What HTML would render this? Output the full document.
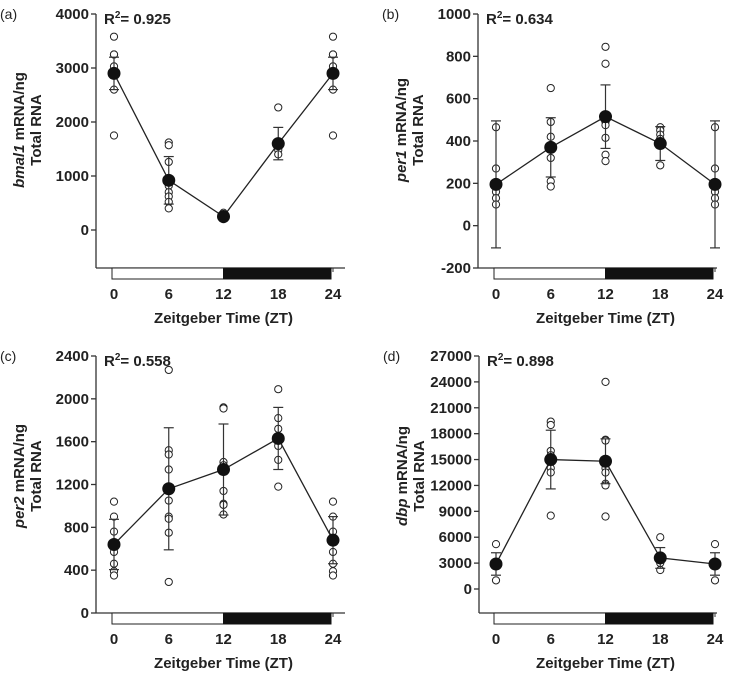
<!DOCTYPE html>
<html><head><meta charset="utf-8"><style>
html,body{margin:0;padding:0;background:#fff;}
svg{display:block;font-family:"Liberation Sans",Arial,sans-serif;}
.tk{font-size:15px;font-weight:bold;fill:#222;}
</style></head><body>
<svg id="fig" width="735" height="673" viewBox="0 0 735 673" xmlns="http://www.w3.org/2000/svg"></svg>
<script>
const xCats=[0,6,12,18,24];
const aMeans=[2900,920,250,1600,2900];
const aErrHi=[300,440,60,300,300];
const aErrLo=[300,440,60,300,300];
const aPts=[[3580,3250,3250,3030,2600,1750],[1620,1570,1260,820,700,620,520,400],[320,280,230,200],[2270,1480,1400],[3580,3250,3250,3030,2600,1750]];
const aTicks=[0,1000,2000,3000,4000];
const bMeans=[195,370,515,388,195];
const bErrHi=[300,140,150,80,300];
const bErrLo=[300,140,150,80,300];
const bPts=[[465,270,160,130,100],[650,490,420,320,210,185],[845,765,490,475,415,335,305],[465,450,430,410,285],[465,270,160,130,100]];
const bTicks=[-200,0,200,400,600,800,1000];
const cMeans=[640,1160,1340,1630,680];
const cErrHi=[235,570,425,290,220];
const cErrLo=[235,570,425,290,220];
const cPts=[[1040,900,760,570,460,390,350],[2270,1520,1480,1340,1050,900,880,750,290],[1920,1910,1410,1380,1140,1020,1010,920],[2090,1820,1720,1560,1430,1180],[1040,900,760,570,460,390,350]];
const cTicks=[0,400,800,1200,1600,2000,2400];
const dMeans=[2900,15000,14800,3600,2900];
const dErrHi=[1300,3400,2600,1200,1300];
const dErrLo=[1300,3400,2600,1200,1300];
const dPts=[[5200,1000],[19400,19000,16000,15500,14000,13500,8500],[24000,17300,17200,14000,13500,12200,12000,8400],[6000,3000,2200],[5200,1000]];
const dTicks=[0,3000,6000,9000,12000,15000,18000,21000,24000,27000];

const NS="http://www.w3.org/2000/svg";
const svg=document.getElementById('fig');
function mk(tag,attrs,parent,text){const e=document.createElementNS(NS,tag);for(const k in attrs)e.setAttribute(k,attrs[k]);if(text!==undefined)e.textContent=text;(parent||svg).appendChild(e);return e;}

function panel(o){
  const g=mk('g',{});
  
  
  const y=v=>o.y0+(v-o.vmin)/(o.vmax-o.vmin)*(o.y1-o.y0);
  const x=t=>o.x0+(t-0)/24*(o.x24-o.x0);
  const st='#333';
  const ya=mk('line',{x1:o.ax,y1:o.top,x2:o.ax,y2:o.bot,stroke:st,'stroke-width':1.3},g);
  
  const xa=mk('line',{x1:o.ax,y1:o.bot,x2:o.xr,y2:o.bot,stroke:st,'stroke-width':1.3},g);
  
  o.ticks.forEach(t=>{
    const yy=y(t);
    mk('line',{x1:o.ax-5,y1:yy,x2:o.ax,y2:yy,stroke:st,'stroke-width':1.3},g);
    const tl=mk('text',{x:o.ax-7,y:yy+5,'text-anchor':'end',class:'tk'},g,String(t));
    
  });
  const bh=11;
  const lb=mk('rect',{x:x(0)-2,y:o.bot,width:x(12)-x(0)+2,height:bh,fill:'#fff',stroke:'#222','stroke-width':1},g);
  
  const db=mk('rect',{x:x(12),y:o.bot,width:x(24)-x(12)-2,height:bh,fill:'#111',stroke:'#111','stroke-width':1},g);
  
  mk('line',{x1:x(24),y1:o.bot,x2:x(24),y2:o.bot+4,stroke:st,'stroke-width':1},g);
  xCats.forEach(c=>{
    const tl=mk('text',{x:x(c),y:o.bot+31,'text-anchor':'middle',class:'tk','font-size':'16'},g,String(c));
    
  });
  const xt=mk('text',{x:(x(0)+x(24))/2,y:o.bot+55,'text-anchor':'middle',class:'tk','font-size':'17.5'},g,'Zeitgeber Time (ZT)');
  
  const cy=o.titleY;
  const yt=mk('text',{transform:`translate(${o.ax-72},${cy}) rotate(-90)`,'text-anchor':'middle',class:'tk','font-size':'16'},g);
  
  mk('tspan',{'font-style':'italic'},yt,o.gene);
  mk('tspan',{},yt,' mRNA/ng');
  mk('text',{transform:`translate(${o.ax-55},${cy}) rotate(-90)`,'text-anchor':'middle',class:'tk','font-size':'16'},g,'Total RNA');
  const r=mk('text',{x:o.ax+8,y:o.top+10,class:'tk','font-size':'15'},g);
  
  mk('tspan',{},r,'R');mk('tspan',{'font-size':'10',dy:'-6'},r,'2');mk('tspan',{dy:'6'},r,'= '+o.r2);
  const pl=mk('text',{x:o.ax-96,y:o.top+5,'font-size':'14',fill:'#222'},g,'('+o.id+')');
  
  o.pts.forEach((arr,i)=>arr.forEach(v=>{
    const c=mk('circle',{cx:x(xCats[i]),cy:y(v),r:3.6,fill:'#fff',stroke:'#222','stroke-width':1},g);
    
  }));
  const pts=o.means.map((m,i)=>x(xCats[i])+','+y(m)).join(' ');
  const ln=mk('polyline',{points:pts,fill:'none',stroke:'#222','stroke-width':1.3},g);
  
  o.means.forEach((m,i)=>{
    const xx=x(xCats[i]),hi=y(m+o.eh[i]),lo=y(m-o.el[i]);
    mk('line',{x1:xx,y1:hi,x2:xx,y2:lo,stroke:'#333','stroke-width':1.2},g);
    mk('line',{x1:xx-5,y1:hi,x2:xx+5,y2:hi,stroke:'#333','stroke-width':1.2},g);
    mk('line',{x1:xx-5,y1:lo,x2:xx+5,y2:lo,stroke:'#333','stroke-width':1.2},g);
    const c=mk('circle',{cx:xx,cy:y(m),r:6.5,fill:'#111'},g);
    
  });
}
panel({id:'a',gene:'bmal1',r2:'0.925',ax:96,top:14,bot:268,xr:345,x0:114,x24:333,vmin:0,vmax:4000,y0:230,y1:14,ticks:aTicks,means:aMeans,eh:aErrHi,el:aErrLo,pts:aPts,titleY:130});
panel({id:'b',gene:'per1',r2:'0.634',ax:478,top:14,bot:268,xr:717,x0:496,x24:715,vmin:-200,vmax:1000,y0:268,y1:14,ticks:bTicks,means:bMeans,eh:bErrHi,el:bErrLo,pts:bPts,titleY:130});
panel({id:'c',gene:'per2',r2:'0.558',ax:96,top:356,bot:613,xr:345,x0:114,x24:333,vmin:0,vmax:2400,y0:613,y1:356,ticks:cTicks,means:cMeans,eh:cErrHi,el:cErrLo,pts:cPts,titleY:476});
panel({id:'d',gene:'dbp',r2:'0.898',ax:479,top:356,bot:613,xr:717,x0:496,x24:715,vmin:0,vmax:27000,y0:589,y1:356,ticks:dTicks,means:dMeans,eh:dErrHi,el:dErrLo,pts:dPts,titleY:476});
</script>
</body></html>
